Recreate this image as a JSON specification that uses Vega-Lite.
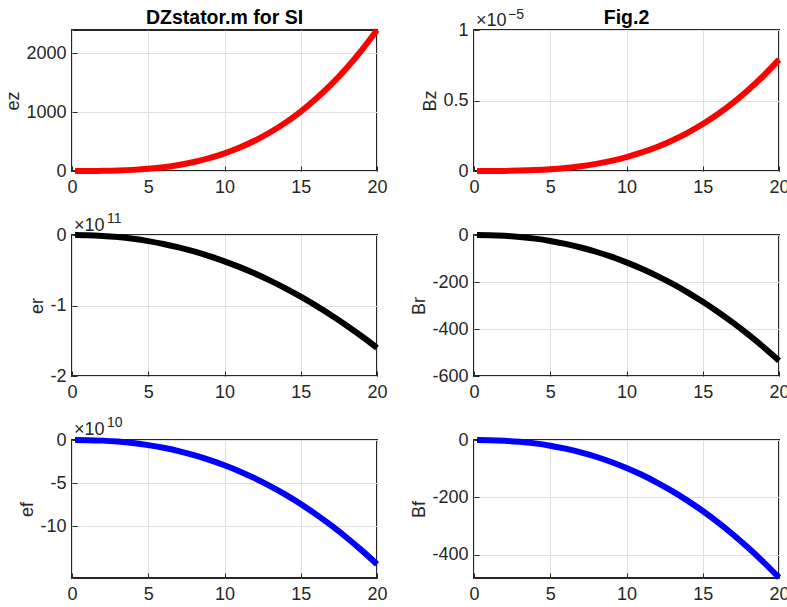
{
  "$schema": "https://vega.github.io/schema/vega-lite/v6.json",
  "padding": {"left": 3, "top": 6, "right": 3, "bottom": 3},
  "background": "white",
  "bounds": "flush",
  "columns": 2,
  "spacing": {"row": 64, "column": 97},
  "datasets": {
    "d": [
      {"x": 0.2, "ez": 0.0024, "Bz": 7.9e-12, "er": -1.01e7, "Br": -0.0213, "ef": -3.6e6, "Bf": -0.0121},
      {"x": 1, "ez": 0.3, "Bz": 9.875e-10, "er": -2.9645e8, "Br": -0.735, "ef": -1.4655e8, "Bf": -0.4895},
      {"x": 2, "ez": 2.4, "Bz": 7.9e-9, "er": -1.2709e9, "Br": -3.376, "ef": -7.217e8, "Bf": -2.411},
      {"x": 3, "ez": 8.1, "Bz": 2.6663e-8, "er": -2.9779e9, "Br": -8.24, "ef": -1.8339e9, "Bf": -6.126},
      {"x": 4, "ez": 19.2, "Bz": 6.32e-8, "er": -5.4486e9, "Br": -15.51, "ef": -3.5541e9, "Bf": -11.872},
      {"x": 5, "ez": 37.5, "Bz": 1.2344e-7, "er": -8.7055e9, "Br": -25.34, "ef": -5.9378e9, "Bf": -19.834},
      {"x": 6, "ez": 64.8, "Bz": 2.133e-7, "er": -1.27666e10, "Br": -37.84, "ef": -9.0311e9, "Bf": -30.166},
      {"x": 7, "ez": 102.9, "Bz": 3.3871e-7, "er": -1.76466e10, "Br": -53.12, "ef": -1.28742e10, "Bf": -43.003},
      {"x": 8, "ez": 153.6, "Bz": 5.056e-7, "er": -2.33586e10, "Br": -71.27, "ef": -1.75025e10, "Bf": -58.463},
      {"x": 9, "ez": 218.7, "Bz": 7.1989e-7, "er": -2.99134e10, "Br": -92.35, "ef": -2.29483e10, "Bf": -76.654},
      {"x": 10, "ez": 300, "Bz": 9.875e-7, "er": -3.73216e10, "Br": -116.44, "ef": -2.92411e10, "Bf": -97.673},
      {"x": 11, "ez": 399.3, "Bz": 1.31436e-6, "er": -4.55912e10, "Br": -143.6, "ef": -3.64078e10, "Bf": -121.612},
      {"x": 12, "ez": 518.4, "Bz": 1.7064e-6, "er": -5.47317e10, "Br": -173.89, "ef": -4.44744e10, "Bf": -148.557},
      {"x": 13, "ez": 659.1, "Bz": 2.16954e-6, "er": -6.47498e10, "Br": -207.37, "ef": -5.34642e10, "Bf": -178.585},
      {"x": 14, "ez": 823.2, "Bz": 2.7097e-6, "er": -7.5653e10, "Br": -244.11, "ef": -6.33997e10, "Bf": -211.773},
      {"x": 15, "ez": 1012.5, "Bz": 3.33281e-6, "er": -8.7448e10, "Br": -284.13, "ef": -7.43026e10, "Bf": -248.191},
      {"x": 16, "ez": 1228.8, "Bz": 4.0448e-6, "er": -1.001403e11, "Br": -327.47, "ef": -8.61925e10, "Bf": -287.907},
      {"x": 17, "ez": 1473.9, "Bz": 4.85161e-6, "er": -1.137365e11, "Br": -374.18, "ef": -9.90891e10, "Bf": -330.985},
      {"x": 18, "ez": 1749.6, "Bz": 5.7591e-6, "er": -1.282416e11, "Br": -424.32, "ef": -1.130109e11, "Bf": -377.488},
      {"x": 19, "ez": 2057.7, "Bz": 6.77326e-6, "er": -1.436613e11, "Br": -477.91, "ef": -1.279755e11, "Bf": -427.474},
      {"x": 20, "ez": 2400, "Bz": 7.9e-6, "er": -1.6e11, "Br": -535, "ef": -1.44e11, "Bf": -481}
    ]
  },
  "config": {
    "font": "Liberation Sans",
    "view": {"stroke": "#262626", "strokeWidth": 2},
    "axis": {
      "domain": false,
      "grid": true,
      "gridColor": "#dfdfdf",
      "gridWidth": 1,
      "tickSize": -5,
      "tickColor": "#262626",
      "tickWidth": 1,
      "labelFont": "Liberation Sans",
      "labelFontSize": 18,
      "labelColor": "#262626",
      "titleFont": "Liberation Sans",
      "titleFontSize": 18,
      "titleFontWeight": "normal",
      "titleColor": "#262626",
      "labelFlush": false,
      "labelOverlap": false
    },
    "axisX": {"labelPadding": 12},
    "axisY": {"labelPadding": 11, "titlePadding": 3}
  },
  "concat": [
    {
      "width": 305, "height": 141,
      "layer": [
        {
          "data": {"name": "d"},
          "mark": {"type": "line", "color": "#ff0000", "strokeWidth": 6, "interpolate": "monotone", "strokeCap": "butt"},
          "encoding": {
            "x": {"field": "x", "type": "quantitative", "scale": {"domain": [0, 20]}, "axis": {"title": null, "values": [0, 5, 10, 15, 20]}},
            "y": {"field": "ez", "type": "quantitative", "scale": {"domain": [0, 2400]}, "axis": {"title": "ez", "values": [0, 1000, 2000], "labelExpr": "'' + datum.value"}}
          }
        },
        {
          "data": {"values": [{}]},
          "mark": {"type": "text", "text": "DZstator.m for SI", "align": "center", "baseline": "alphabetic", "dy": -6.5, "fontSize": 19.5, "fontWeight": "bold", "color": "#000000"},
          "encoding": {"x": {"datum": 10, "type": "quantitative"}, "y": {"datum": 2400, "type": "quantitative"}}
        }
      ]
    },
    {
      "width": 305, "height": 141,
      "layer": [
        {
          "data": {"name": "d"},
          "mark": {"type": "line", "color": "#ff0000", "strokeWidth": 6, "interpolate": "monotone", "strokeCap": "butt"},
          "encoding": {
            "x": {"field": "x", "type": "quantitative", "scale": {"domain": [0, 20]}, "axis": {"title": null, "values": [0, 5, 10, 15, 20]}},
            "y": {"field": "Bz", "type": "quantitative", "scale": {"domain": [0, 1e-5]}, "axis": {"title": "Bz", "values": [0, 5e-6, 1e-5], "labelExpr": "'' + round(datum.value * 1e6) / 10"}}
          }
        },
        {
          "data": {"values": [{}]},
          "mark": {"type": "text", "text": "Fig.2", "align": "center", "baseline": "alphabetic", "dy": -6, "fontSize": 19.5, "fontWeight": "bold", "color": "#000000"},
          "encoding": {"x": {"datum": 10, "type": "quantitative"}, "y": {"datum": 1e-5, "type": "quantitative"}}
        },
        {
          "data": {"values": [{}]},
          "mark": {"type": "text", "text": "×10", "align": "left", "baseline": "alphabetic", "dx": 2, "dy": -4.5, "fontSize": 18, "color": "#262626"},
          "encoding": {"x": {"datum": 0, "type": "quantitative"}, "y": {"datum": 1e-5, "type": "quantitative"}}
        },
        {
          "data": {"values": [{}]},
          "mark": {"type": "text", "text": "−5", "align": "left", "baseline": "alphabetic", "dx": 34, "dy": -11, "fontSize": 14, "color": "#262626"},
          "encoding": {"x": {"datum": 0, "type": "quantitative"}, "y": {"datum": 1e-5, "type": "quantitative"}}
        }
      ]
    },
    {
      "width": 305, "height": 141,
      "layer": [
        {
          "data": {"name": "d"},
          "mark": {"type": "line", "color": "#000000", "strokeWidth": 6, "interpolate": "monotone", "strokeCap": "butt"},
          "encoding": {
            "x": {"field": "x", "type": "quantitative", "scale": {"domain": [0, 20]}, "axis": {"title": null, "values": [0, 5, 10, 15, 20]}},
            "y": {"field": "er", "type": "quantitative", "scale": {"domain": [-2e11, 0]}, "axis": {"title": "er", "values": [0, -1e11, -2e11], "labelExpr": "'' + datum.value / 1e11"}}
          }
        },
        {
          "data": {"values": [{}]},
          "mark": {"type": "text", "text": "×10", "align": "left", "baseline": "alphabetic", "dx": 2, "dy": -4, "fontSize": 18, "color": "#262626"},
          "encoding": {"x": {"datum": 0, "type": "quantitative"}, "y": {"datum": 0, "type": "quantitative"}}
        },
        {
          "data": {"values": [{}]},
          "mark": {"type": "text", "text": "11", "align": "left", "baseline": "alphabetic", "dx": 35, "dy": -12, "fontSize": 14, "color": "#262626"},
          "encoding": {"x": {"datum": 0, "type": "quantitative"}, "y": {"datum": 0, "type": "quantitative"}}
        }
      ]
    },
    {
      "width": 305, "height": 141,
      "layer": [
        {
          "data": {"name": "d"},
          "mark": {"type": "line", "color": "#000000", "strokeWidth": 6, "interpolate": "monotone", "strokeCap": "butt"},
          "encoding": {
            "x": {"field": "x", "type": "quantitative", "scale": {"domain": [0, 20]}, "axis": {"title": null, "values": [0, 5, 10, 15, 20]}},
            "y": {"field": "Br", "type": "quantitative", "scale": {"domain": [-600, 0]}, "axis": {"title": "Br", "values": [0, -200, -400, -600], "labelExpr": "'' + datum.value"}}
          }
        }
      ]
    },
    {
      "width": 305, "height": 138,
      "layer": [
        {
          "data": {"name": "d"},
          "mark": {"type": "line", "color": "#0000ff", "strokeWidth": 6, "interpolate": "monotone", "strokeCap": "butt"},
          "encoding": {
            "x": {"field": "x", "type": "quantitative", "scale": {"domain": [0, 20]}, "axis": {"title": null, "values": [0, 5, 10, 15, 20]}},
            "y": {"field": "ef", "type": "quantitative", "scale": {"domain": [-1.445e11, 0]}, "axis": {"title": "ef", "values": [0, -5e10, -1e11], "labelExpr": "'' + datum.value / 1e10"}}
          }
        },
        {
          "data": {"values": [{}]},
          "mark": {"type": "text", "text": "×10", "align": "left", "baseline": "alphabetic", "dx": 2, "dy": -5, "fontSize": 18, "color": "#262626"},
          "encoding": {"x": {"datum": 0, "type": "quantitative"}, "y": {"datum": 0, "type": "quantitative"}}
        },
        {
          "data": {"values": [{}]},
          "mark": {"type": "text", "text": "10", "align": "left", "baseline": "alphabetic", "dx": 35, "dy": -13, "fontSize": 14, "color": "#262626"},
          "encoding": {"x": {"datum": 0, "type": "quantitative"}, "y": {"datum": 0, "type": "quantitative"}}
        }
      ]
    },
    {
      "width": 305, "height": 138,
      "layer": [
        {
          "data": {"name": "d"},
          "mark": {"type": "line", "color": "#0000ff", "strokeWidth": 6, "interpolate": "monotone", "strokeCap": "butt"},
          "encoding": {
            "x": {"field": "x", "type": "quantitative", "scale": {"domain": [0, 20]}, "axis": {"title": null, "values": [0, 5, 10, 15, 20]}},
            "y": {"field": "Bf", "type": "quantitative", "scale": {"domain": [-482, 0]}, "axis": {"title": "Bf", "values": [0, -200, -400], "labelExpr": "'' + datum.value"}}
          }
        }
      ]
    }
  ]
}
